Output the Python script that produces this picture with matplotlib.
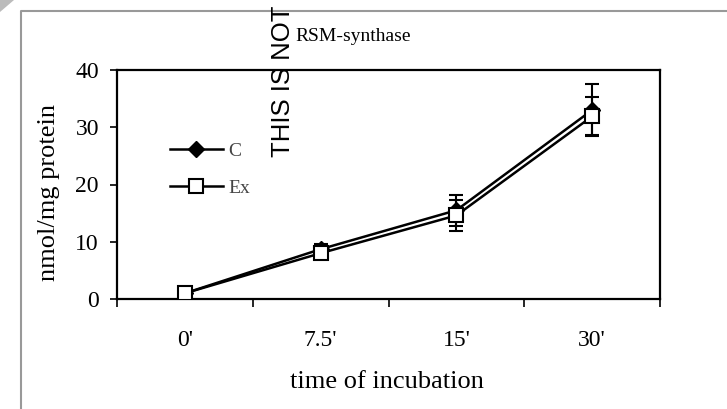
import numpy as np
import matplotlib
matplotlib.use('Agg')
from matplotlib import pyplot as plt
from matplotlib.lines import Line2D
from matplotlib.patches import Polygon

#===========DATA===============
categories = ["0'", "7.5'", "15'", "30'"]
c_vals = [1.0, 8.7, 15.5, 33.0]
c_err = [0.3, 0.9, 2.7, 4.6]
ex_vals = [1.0, 8.0, 14.6, 31.9]
ex_err = [0.3, 0.8, 2.7, 3.3]

plt.rcParams['font.family'] = ['Liberation Serif', 'DejaVu Serif']

fig = plt.figure(figsize=(7.27, 4.09), dpi=100)
ax = fig.add_axes([117/727, 1-299/409, 543/727, 229/409])

x = np.arange(len(categories))

c_plot = ax.errorbar(x, c_vals, yerr=c_err, color='black', lw=1.8, marker='D', ms=8,
                     mfc='black', mec='black', capsize=5, elinewidth=1.5, capthick=1.5,
                     zorder=3)
ex_plot = ax.errorbar(x, ex_vals, yerr=ex_err, color='black', lw=1.8, marker='s', ms=10,
                      mfc='white', mec='black', mew=1.5, capsize=5, elinewidth=1.5,
                      capthick=1.5, zorder=4)

ax.set_xlim(-0.5, len(categories) - 0.5)
ax.set_ylim(0, 40)
ax.set_yticks([0, 10, 20, 30, 40])
ax.set_xticks(np.arange(-0.5, len(categories)), [])
ax.set_xticks(x, categories, minor=True)
ax.tick_params(axis='x', which='major', direction='out', length=6, width=1.2)
ax.tick_params(axis='x', which='minor', length=0, pad=22, labelsize=17)
ax.tick_params(axis='y', direction='out', length=5, width=1.2, pad=8, labelsize=17)

for s in ax.spines.values():
    s.set_linewidth(1.6)

ax.set_ylabel('nmol/mg protein', fontsize=19)
ax.yaxis.set_label_coords(-0.105, 0.467)
ax.set_xlabel('time of incubation', fontsize=19)
ax.xaxis.set_label_coords(0.497, -0.315)
ax.set_title('RSM-synthase', fontsize=14, x=0.435, y=1.092, va='baseline')

# legend without the error bars
leg = ax.legend(handles=[c_plot.lines[0], ex_plot.lines[0]], labels=['C', 'Ex'],
                loc='upper left', bbox_to_anchor=(0.098, 0.685), frameon=False,
                fontsize=14, handlelength=2.7, handletextpad=0.3,
                labelspacing=1.0, borderpad=0, borderaxespad=0)
for t in leg.get_texts():
    t.set_color('#444444')

# page frame and corner
fig.add_artist(Line2D([21/727, 21/727, 1], [0, 1-11/409, 1-11/409],
                      transform=fig.transFigure, color='#999999', lw=1.5))
fig.add_artist(Polygon([[0, 1], [14/727, 1], [0, 1-12/409]], closed=True,
                       transform=fig.transFigure, color='#bbbbbb', lw=0))

fig.text(283/727, 1-157/409, 'THIS IS NOT', rotation=90, ha='center', va='bottom',
         fontsize=18.5, family='Liberation Sans', color='black')

fig.savefig('out.png', dpi=100)
